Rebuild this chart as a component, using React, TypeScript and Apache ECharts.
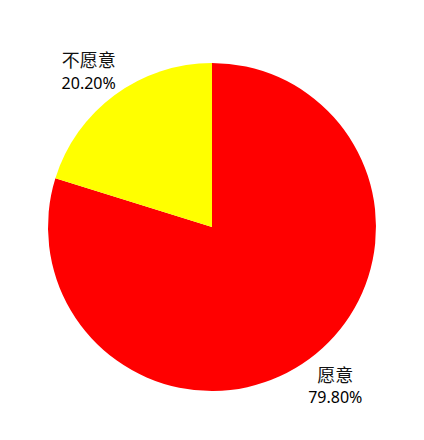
import React, { useEffect, useRef } from 'react'
import * as echarts from 'echarts'

const categories = ['愿意', '不愿意']
const values = [79.8, 20.2]
const colors = ['#ff0000', '#ffff00']

const App: React.FC = () => {
  const chartRef = useRef<HTMLDivElement>(null)

  useEffect(() => {
    if (!chartRef.current) return
    const chart = echarts.init(chartRef.current, null, { renderer: 'svg' })
    const data = categories.map((name, i) => ({ name, value: values[i] }))
    const font = '"Noto Sans CJK SC", "Noto Sans", sans-serif'
    const labelStyle = {
      show: true,
      position: 'inside',
      color: '#000',
      formatter: (p: any) => `{n|${p.name}}\n{v|${p.value.toFixed(2)}%}`,
      rich: {
        n: { fontSize: 18, lineHeight: 24, color: '#111', fontFamily: font },
        v: { fontSize: 16, lineHeight: 23, color: '#000', fontFamily: '"Noto Sans", sans-serif' }
      }
    }
    chart.setOption({
      animation: false,
      color: colors,
      series: [
        {
          type: 'pie',
          center: [212, 227],
          radius: 164,
          startAngle: 90,
          clockwise: true,
          silent: true,
          label: { show: false },
          labelLine: { show: false },
          data
        },
        {
          // invisible ring used only to place the labels around the pie
          type: 'pie',
          center: [212, 228],
          radius: [185, 209],
          startAngle: 91.7,
          clockwise: true,
          silent: true,
          itemStyle: { color: 'rgba(0,0,0,0)' },
          label: labelStyle,
          labelLine: { show: false },
          data
        }
      ]
    })
    return () => {
      chart.dispose()
    }
  }, [])

  return (
    <div
      ref={chartRef}
      style={{ position: 'absolute', left: 0, top: 0, width: 424, height: 440 }}
    />
  )
}

export default App
